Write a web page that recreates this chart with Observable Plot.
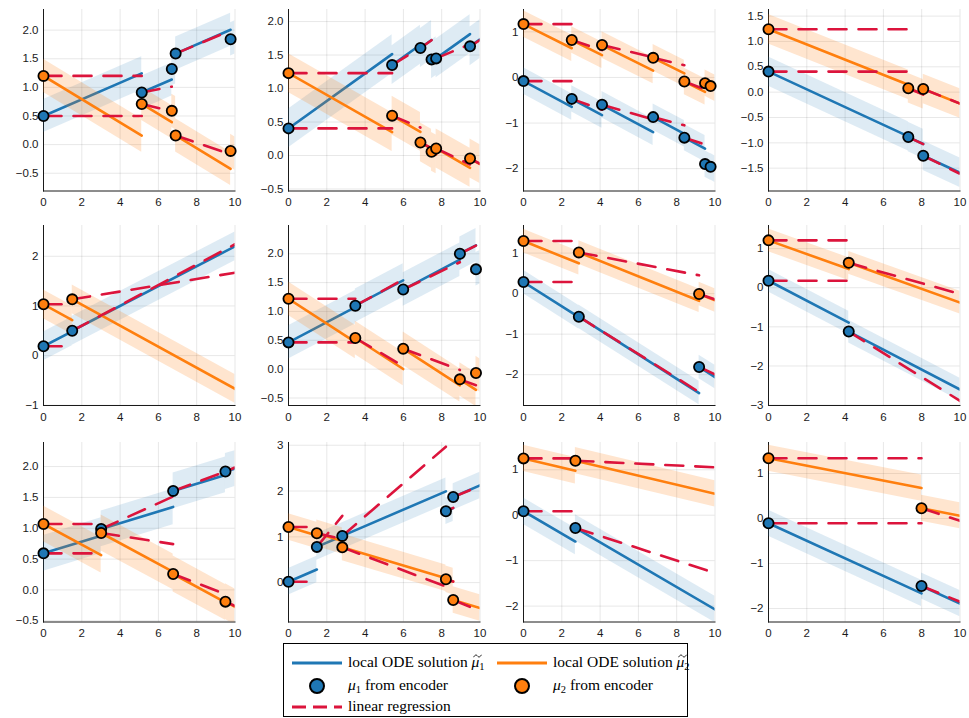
<!DOCTYPE html>
<html><head><meta charset="utf-8">
<script src="https://cdn.jsdelivr.net/npm/d3@7"></script>
<script src="https://cdn.jsdelivr.net/npm/@observablehq/plot@0.6"></script>
<style>
html,body{margin:0;padding:0;background:#fff;}
#wrap{position:relative;width:969px;height:718px;overflow:hidden;background:#fff;}
#legend{position:absolute;left:283px;top:643px;width:405px;height:74px;border:1px solid #000;box-sizing:border-box;background:#fff;font-family:"Liberation Serif","DejaVu Serif",serif;font-size:15.5px;color:#000;}
.sw{position:absolute;}
.lt{position:absolute;white-space:nowrap;line-height:1;}
.lt sub{font-size:10.5px;vertical-align:-3px;}
.tm{position:relative;display:inline-block;}
.tm svg{position:absolute;left:1.5px;top:0px;}
</style></head><body><div id="wrap"></div>
<script>
// ---------- data ----------
const xTicks = [0, 2, 4, 6, 8, 10];
const obsTimes = [
  [0, 5.13, 6.70, 6.90, 9.77],
  [0, 5.41, 6.89, 7.47, 7.71, 9.48],
  [0, 2.52, 4.10, 6.77, 8.40, 9.48, 9.77],
  [0, 7.30, 8.08],
  [0, 1.50],
  [0, 3.49, 5.99, 8.95, 9.79],
  [0, 2.89, 9.17],
  [0, 4.19],
  [0, 3.01, 6.77, 9.50],
  [0, 1.48, 2.81, 8.22, 8.60],
  [0, 2.71],
  [0, 7.99]
];
const mu1Encoder = [
  [0.50, 0.91, 1.32, 1.59, 1.84],
  [0.405, 1.35, 1.605, 1.435, 1.45, 1.63],
  [-0.08, -0.47, -0.60, -0.87, -1.32, -1.90, -1.96],
  [0.405, -0.886, -1.255],
  [0.187, 0.50],
  [0.464, 1.10, 1.38, 2.0, 1.73],
  [0.285, -0.57, -1.81],
  [0.178, -1.12],
  [0.593, 0.988, 1.605, 1.92],
  [0.02, 0.78, 1.02, 1.558, 1.87],
  [0.088, -0.28],
  [-0.106, -1.50]
];
const mu2Encoder = [
  [1.20, 0.71, 0.59, 0.16, -0.11],
  [1.23, 0.595, 0.195, 0.055, 0.105, -0.045],
  [1.17, 0.82, 0.71, 0.43, -0.09, -0.125, -0.19],
  [1.24, 0.076, 0.063],
  [1.033, 1.133],
  [1.22, 0.54, 0.355, -0.177, -0.067],
  [1.296, 1.016, -0.01],
  [1.21, 0.636],
  [1.069, 0.923, 0.258, -0.19],
  [1.216, 1.077, 0.77, 0.072, -0.38],
  [1.25, 1.2],
  [1.34, 0.228]
];
// slope of the local ODE solution in each panel
const odeSlope1 = [0.145, 0.205, -0.225, -0.175, 0.2, 0.175, -0.3, -0.255, 0.095, 0.18, -0.246, -0.195];
const odeSlope2 = [-0.203, -0.163, -0.21, -0.15, -0.212, -0.215, -0.19, -0.175, -0.168, -0.125, -0.10, -0.083];
// slope of the linear-regression extrapolation from each observation
const regSlope1 = [
  [0, 0.065, 0.09, 0.14, 0.14],
  [0, 0.175, 0.2, 0.15, 0.12, 0.18],
  [0, -0.15, -0.12, -0.11, -0.14, -0.16, -0.17],
  [0, -0.177, -0.185],
  [0, 0.205],
  [0, 0.182, 0.16, 0.17, 0.17],
  [0, -0.296, -0.22],
  [0, -0.305],
  [0, 0.14, 0.115, 0.13],
  [0, 0.51, 0.36, 0.2, 0.17],
  [0, -0.136],
  [0, -0.174]
];
const regSlope2 = [
  [0, -0.08, -0.09, -0.115, -0.12],
  [0, -0.12, -0.15, -0.14, -0.135, -0.15],
  [0, -0.14, -0.10, -0.10, -0.16, -0.15, -0.15],
  [0, -0.159, -0.15],
  [0, 0.063],
  [0, -0.195, -0.125, -0.12, -0.12],
  [0, -0.09, -0.16],
  [0, -0.137],
  [0, -0.048, -0.12, -0.14],
  [0, -0.094, -0.158, -0.13, -0.17],
  [0, -0.02],
  [0, -0.139]
];
const ribbonHalfWidth = 0.29;
const yLimits = [[-0.81,2.36],[-0.53,2.18],[-2.49,1.49],[-1.95,1.63],[-1.005,2.62],[-0.63,2.49],[-2.76,1.68],[-3.01,1.59],[-0.52,2.39],[-0.86,3.06],[-2.35,1.60],[-2.30,1.69]];
const yTicks = [
  [-0.5,0,0.5,1,1.5,2], [-0.5,0,0.5,1,1.5,2], [-2,-1,0,1], [-1.5,-1,-0.5,0,0.5,1,1.5],
  [-1,0,1,2], [-0.5,0,0.5,1,1.5,2], [-2,-1,0,1], [-3,-2,-1,0,1],
  [-0.5,0,0.5,1,1.5,2], [0,1,2,3], [-2,-1,0,1], [-2,-1,0,1]
];
// ---------- drawing ----------
const BLUE = "#1f77b4", ORANGE = "#ff7f0e", RED = "#dc143c";
const colLeft = [43.3, 288.3, 523.3, 768.3], plotW = 191.5;
const rowTop = [8.5, 225, 441.5], rowBottom = [190, 405, 621];
const mL = 42, mR = 9, mT = 6, mB = 24;
const wrap = document.getElementById("wrap");

for (let p = 0; p < 12; p++) {
  const col = p % 4, row = Math.floor(p / 4);
  const T = obsTimes[p], n = T.length;
  const ode1 = [], ode2 = [], reg1 = [], reg2 = [], pts1 = [], pts2 = [];
  for (let i = 0; i < n; i++) {
    const t0 = T[i], t1 = i < n - 1 ? T[i + 1] : 10, dt = t1 - t0;
    const a = mu1Encoder[p][i], b = mu2Encoder[p][i];
    [[ode1, a, odeSlope1[p]], [ode2, b, odeSlope2[p]]].forEach(([arr, v, s]) => {
      const v1 = v + s * dt;
      arr.push({seg: i, t: t0, y: v, lo: v - ribbonHalfWidth, hi: v + ribbonHalfWidth});
      arr.push({seg: i, t: t1, y: v1, lo: v1 - ribbonHalfWidth, hi: v1 + ribbonHalfWidth});
    });
    reg1.push({seg: i, t: t0, y: a}, {seg: i, t: t1, y: a + regSlope1[p][i] * dt});
    reg2.push({seg: i, t: t0, y: b}, {seg: i, t: t1, y: b + regSlope2[p][i] * dt});
    pts1.push({t: t0, y: a});
    pts2.push({t: t0, y: b});
  }
  const decimals = yTicks[p].some(v => !Number.isInteger(v));
  const plotH = rowBottom[row] - rowTop[row];
  const svg = Plot.plot({
    width: mL + plotW + mR, height: mT + plotH + mB,
    marginLeft: mL, marginRight: mR, marginTop: mT, marginBottom: mB,
    style: {fontFamily: "'Liberation Sans', Arial, sans-serif", fontSize: "11.5px", color: "#1a1a1a", background: "transparent", overflow: "visible"},
    x: {domain: [0, 10], ticks: xTicks, tickSize: 0, tickPadding: 7, grid: true, line: true, label: null, tickFormat: d3.format("d")},
    y: {domain: yLimits[p], ticks: yTicks[p], tickSize: 0, tickPadding: 5, grid: true, line: true, label: null, tickFormat: d3.format(decimals ? ".1f" : "d")},
    marks: [
      Plot.areaY(ode1, {x: "t", y1: "lo", y2: "hi", z: "seg", fill: BLUE, fillOpacity: 0.15, clip: true}),
      Plot.line(ode1, {x: "t", y: "y", z: "seg", stroke: BLUE, strokeWidth: 2.6, clip: true}),
      Plot.areaY(ode2, {x: "t", y1: "lo", y2: "hi", z: "seg", fill: ORANGE, fillOpacity: 0.2, clip: true}),
      Plot.line(ode2, {x: "t", y: "y", z: "seg", stroke: ORANGE, strokeWidth: 2.6, clip: true}),
      Plot.line(reg1, {x: "t", y: "y", z: "seg", stroke: RED, strokeWidth: 2.6, strokeDasharray: "18,12", clip: true}),
      Plot.line(reg2, {x: "t", y: "y", z: "seg", stroke: RED, strokeWidth: 2.6, strokeDasharray: "18,12", clip: true}),
      Plot.dot(pts1, {x: "t", y: "y", r: 5.1, fill: BLUE, stroke: "#000", strokeWidth: 1.8}),
      Plot.dot(pts2, {x: "t", y: "y", r: 5.1, fill: ORANGE, stroke: "#000", strokeWidth: 1.8})
    ]
  });
  svg.style.position = "absolute";
  svg.style.left = (colLeft[col] - mL) + "px";
  svg.style.top = (rowTop[row] - mT) + "px";
  wrap.appendChild(svg);
}

// ---------- legend ----------
const legend = document.createElement("div");
legend.id = "legend";
const L = 283, Tp = 643;
function line(x, y, color, dash) {
  return `<svg class="sw" style="left:${x - L}px;top:${y - Tp - 5}px" width="52" height="10"><line x1="1" y1="5" x2="51" y2="5" stroke="${color}" stroke-width="2.8" ${dash ? 'stroke-dasharray="14,7"' : ''}/></svg>`;
}
function circ(x, y, color) {
  return `<svg class="sw" style="left:${x - L - 9}px;top:${y - Tp - 9}px" width="18" height="18"><circle cx="9" cy="9" r="7" fill="${color}" stroke="#000" stroke-width="2"/></svg>`;
}
function text(x, y, html) {
  return `<div class="lt" style="left:${x - L}px;top:${y - Tp - 9}px">${html}</div>`;
}
const tildeMark = `<svg width="9" height="4" viewBox="0 0 9 4"><path d="M0.6,3.2 C2,0.6 3.4,0.6 4.5,2 C5.6,3.4 7,3.4 8.4,0.8" fill="none" stroke="#000" stroke-width="0.9"/></svg>`;
const muTilde = k => `<span class="tm"><i>μ</i>${tildeMark}</span><sub>${k}</sub>`;
legend.innerHTML =
  line(290, 662, BLUE) + text(347, 662, "local ODE solution " + muTilde(1)) +
  line(495, 662, ORANGE) + text(552, 662, "local ODE solution " + muTilde(2)) +
  circ(316, 685, BLUE) + text(347, 685, "<i>μ</i><sub>1</sub> from encoder") +
  circ(521, 685, ORANGE) + text(552, 685, "<i>μ</i><sub>2</sub> from encoder") +
  line(290, 706, RED, true) + text(347, 706, "linear regression");
wrap.appendChild(legend);
</script></body></html>
